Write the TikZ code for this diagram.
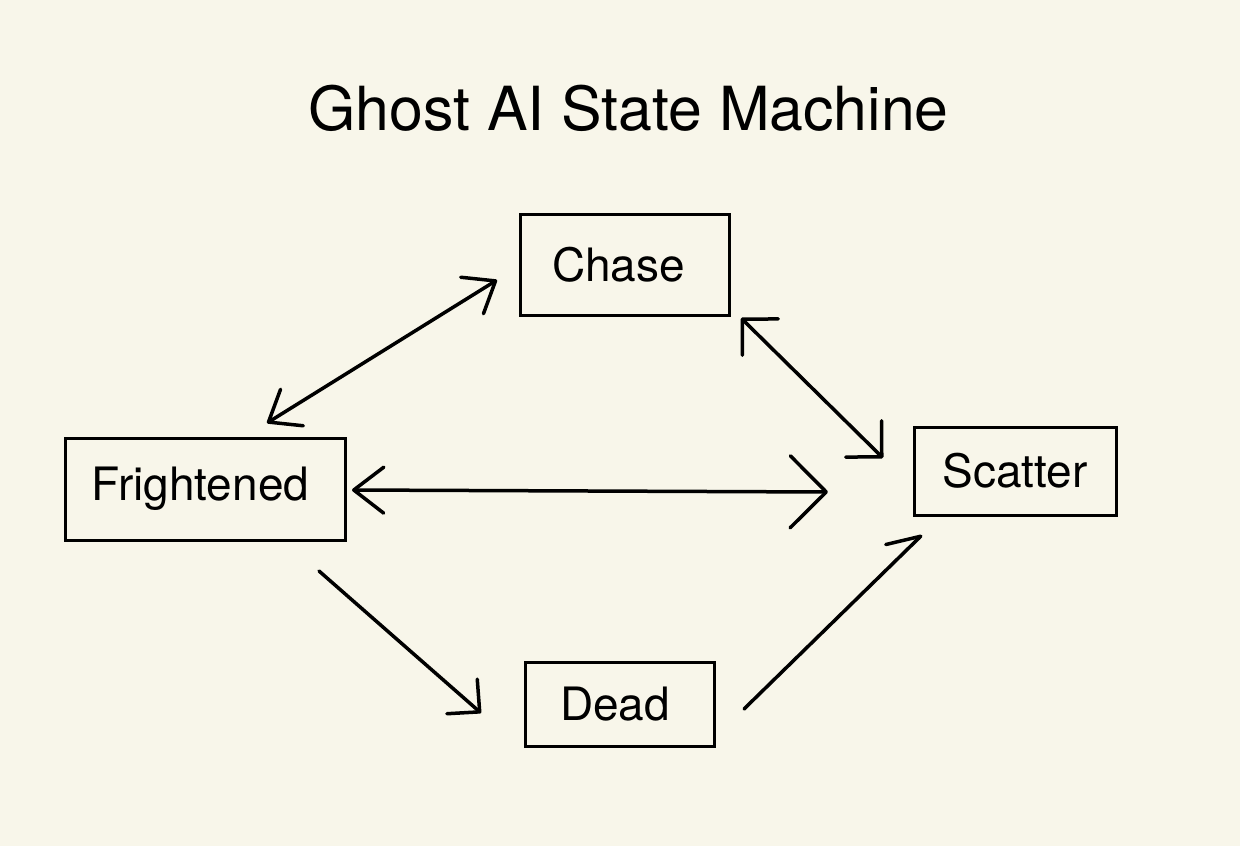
\documentclass[tikz,border=0pt]{standalone}
\usepackage{fontspec}
\setmainfont{TeX Gyre Heros}
\usetikzlibrary{arrows.meta}
\definecolor{bg}{RGB}{248,246,234}
\begin{document}
\begin{tikzpicture}[x=0.5pt,y=-0.5pt,
  state/.style={draw, line width=1.5pt, rectangle, inner sep=0pt,
    font=\fontsize{23}{28}\selectfont},
  conn/.style={line width=1.75pt, line cap=round, line join=round},
]
\fill[bg] (0,0) rectangle (1240,846);
\useasboundingbox (0,0) rectangle (1240,846);

\node[font=\fontsize{30.4}{36}\selectfont] (title) at (628.5,108) {Ghost AI State Machine};

\node[state, minimum width=104.5pt, minimum height=50.5pt] (chase) at (624.5,264.5) {\hspace*{-6pt}Chase};
\node[state, minimum width=140pt, minimum height=51pt] (fright) at (205,489) {\hspace*{-4.5pt}Frightened};
\node[state, minimum width=101pt, minimum height=44pt] (scatter) at (1015,471) {Scatter};
\node[state, minimum width=94.5pt, minimum height=42pt] (dead) at (619.5,704) {\hspace*{-4.5pt}Dead};

% connector end points
\coordinate (fcA) at (267,423);
\coordinate (fcB) at (497,280);
\coordinate (csA) at (741,318);
\coordinate (csB) at (883,458);
\coordinate (fsA) at (352,490);
\coordinate (fsB) at (828,492);
\coordinate (fdA) at (319,571);
\coordinate (fdB) at (481,713);
\coordinate (dsA) at (744,709);
\coordinate (dsB) at (922,535);

\draw[conn, {Straight Barb[length=13.8pt,width=21.5pt,round]}-{Straight Barb[length=13.8pt,width=21.5pt,round]}] (fcA) -- (fcB);
\draw[conn, {Straight Barb[length=12.7pt,width=25.5pt,round]}-{Straight Barb[length=12.7pt,width=25.5pt,round]}] (csA) -- (csB);
\draw[conn, {Straight Barb[length=15pt,width=23pt,round]}-{Straight Barb[length=18pt,width=36pt,round]}] (fsA) -- (fsB);
\draw[conn, -{Straight Barb[length=11.7pt,width=23pt,round]}] (fdA) -- (fdB);
\draw[conn, -{Straight Barb[harpoon,length=15.4pt,width=18.5pt,round]}] (dsA) -- (dsB);
\end{tikzpicture}
\end{document}
